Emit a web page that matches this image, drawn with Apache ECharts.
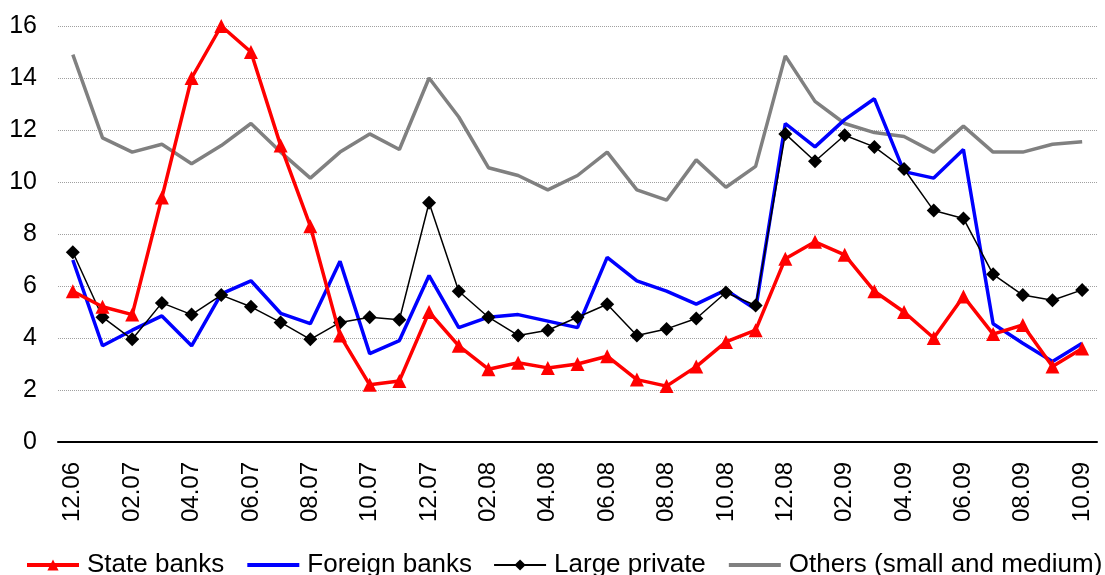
<!DOCTYPE html>
<html>
<head>
<meta charset="utf-8">
<script src="https://cdn.jsdelivr.net/npm/echarts@6/dist/echarts.min.js"></script>
<style>
  html, body { margin: 0; padding: 0; background: #fff; }
  #chart { width: 1105px; height: 575px; }
</style>
</head>
<body>
<div id="chart"></div>
<script>
// месяцы 12.06 – 10.09
const months = [
  '12.06', '01.07', '02.07', '03.07', '04.07', '05.07', '06.07', '07.07', '08.07', '09.07',
  '10.07', '11.07', '12.07', '01.08', '02.08', '03.08', '04.08', '05.08', '06.08', '07.08',
  '08.08', '09.08', '10.08', '11.08', '12.08', '01.09', '02.09', '03.09', '04.09', '05.09',
  '06.09', '07.09', '08.09', '09.09', '10.09'
]

const stateBanks = [
  5.8, 5.2, 4.9, 9.4, 14.0, 16.0, 15.0, 11.4, 8.3, 4.1,
  2.2, 2.35, 5.0, 3.7, 2.8, 3.05, 2.85, 3.0, 3.3, 2.4,
  2.15, 2.9, 3.85, 4.3, 7.05, 7.7, 7.2, 5.8, 5.0, 4.0,
  5.6, 4.15, 4.5, 2.9, 3.6
]

const foreignBanks = [
  7.0, 3.7, 4.3, 4.85, 3.7, 5.7, 6.2, 4.95, 4.55, 6.95,
  3.4, 3.9, 6.4, 4.4, 4.8, 4.9, 4.65, 4.4, 7.1, 6.2,
  5.8, 5.3, 5.85, 5.1, 12.25, 11.35, 12.4, 13.2, 10.4, 10.15,
  11.25, 4.55, 3.8, 3.1, 3.8
]

const largePrivate = [
  7.3, 4.8, 3.95, 5.35, 4.9, 5.65, 5.2, 4.6, 3.95, 4.6,
  4.8, 4.7, 9.2, 5.8, 4.8, 4.1, 4.3, 4.8, 5.3, 4.1,
  4.35, 4.75, 5.75, 5.25, 11.85, 10.8, 11.8, 11.35, 10.5, 8.9,
  8.6, 6.45, 5.65, 5.45, 5.85
]

const others = [
  14.9, 11.7, 11.15, 11.45, 10.7, 11.4, 12.25, 11.15, 10.15, 11.15,
  11.85, 11.25, 14.0, 12.5, 10.55, 10.25, 9.7, 10.25, 11.15, 9.7,
  9.3, 10.85, 9.8, 10.6, 14.85, 13.1, 12.25, 11.9, 11.75, 11.15,
  12.15, 11.15, 11.15, 11.45, 11.55
]

const font = '"Liberation Sans", Arial, sans-serif'

const chart = echarts.init(document.getElementById('chart'))

// у линий без маркеров в легенде прячем кружок
const noMarker = { color: 'rgba(0,0,0,0)', borderWidth: 0 }

const option = {
  animation: false,
  textStyle: { fontFamily: font },
  grid: { left: 58, right: 8, top: 26, bottom: 133 },
  legend: {
    top: 552,
    left: 25,
    right: 0,
    padding: 0,
    itemWidth: 52,
    itemHeight: 14,
    itemGap: 21,
    textStyle: { fontSize: 26, color: '#000', fontFamily: font, padding: [0, 0, 0, 3] },
    data: [
      { name: 'State banks', lineStyle: { width: 4 } },
      { name: 'Foreign banks', itemStyle: noMarker, lineStyle: { width: 4 } },
      { name: 'Large private', lineStyle: { width: 2 } },
      { name: 'Others (small and medium)', itemStyle: noMarker, lineStyle: { width: 4 } }
    ]
  },
  xAxis: {
    type: 'category',
    data: months,
    boundaryGap: true,
    axisLine: { lineStyle: { color: '#000', width: 2 } },
    axisTick: { interval: 1, length: 8, lineStyle: { color: '#000', width: 2 } },
    axisLabel: { interval: 1, rotate: 90, margin: 20, fontSize: 24, color: '#000', fontFamily: font }
  },
  yAxis: {
    type: 'value',
    min: 0,
    max: 16,
    interval: 2,
    axisLine: { show: false },
    axisTick: { show: false },
    axisLabel: { margin: 21, fontSize: 25, color: '#000', fontFamily: font },
    splitLine: { lineStyle: { color: '#a0a0a0', type: 'dotted', width: 1 } }
  },
  series: [
    {
      name: 'State banks', type: 'line', data: stateBanks, z: 5,
      symbol: 'triangle', symbolSize: 14,
      lineStyle: { color: '#ff0000', width: 3.5 },
      itemStyle: { color: '#ff0000' }
    },
    {
      name: 'Foreign banks', type: 'line', data: foreignBanks, z: 3,
      symbol: 'none',
      lineStyle: { color: '#0000ff', width: 3.5 },
      itemStyle: { color: '#0000ff' }
    },
    {
      name: 'Large private', type: 'line', data: largePrivate, z: 4,
      symbol: 'diamond', symbolSize: 14,
      lineStyle: { color: '#000', width: 1.5 },
      itemStyle: { color: '#000' }
    },
    {
      name: 'Others (small and medium)', type: 'line', data: others, z: 2,
      symbol: 'none',
      lineStyle: { color: '#808080', width: 3.5 },
      itemStyle: { color: '#808080' }
    }
  ]
}

chart.setOption(option)
</script>
</body>
</html>
